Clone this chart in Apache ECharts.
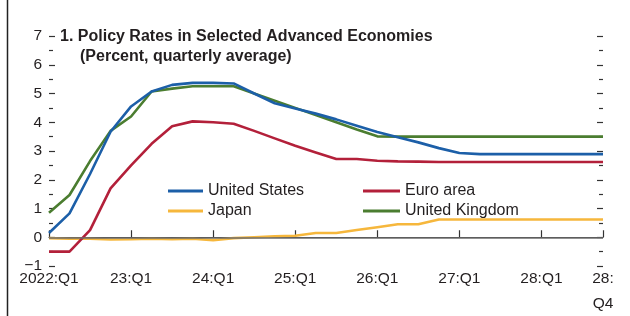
<!DOCTYPE html>
<html><head><meta charset="utf-8">
<script src="https://cdn.jsdelivr.net/npm/echarts@6/dist/echarts.min.js"></script>
<style>html,body{margin:0;padding:0;background:#fff}#c{width:630px;height:316px}</style>
</head><body><div id="c"></div>
<script>
// Quarterly categories 2022:Q1 .. 2028:Q4
const categories = ['2022:Q1','22:Q2','22:Q3','22:Q4','23:Q1','23:Q2','23:Q3','23:Q4',
  '24:Q1','24:Q2','24:Q3','24:Q4','25:Q1','25:Q2','25:Q3','25:Q4',
  '26:Q1','26:Q2','26:Q3','26:Q4','27:Q1','27:Q2','27:Q3','27:Q4',
  '28:Q1','28:Q2','28:Q3','28:Q4'];
const tickIndices = [0, 4, 8, 12, 16, 20, 24, 27];
const tickLabels = ['2022:Q1','23:Q1','24:Q1','25:Q1','26:Q1','27:Q1','28:Q1','28:\nQ4'];

const unitedStates = [0.15, 0.83, 2.2, 3.67, 4.55, 5.07, 5.3, 5.37, 5.37, 5.35, 5.0, 4.66,
  4.48, 4.3, 4.1, 3.88, 3.66, 3.48, 3.3, 3.1, 2.93, 2.89, 2.89, 2.89, 2.89, 2.89, 2.89, 2.89];
const euroArea = [-0.5, -0.5, 0.25, 1.7, 2.5, 3.25, 3.86, 4.03, 4.0, 3.95, 3.7, 3.44,
  3.18, 2.95, 2.72, 2.72, 2.66, 2.64, 2.63, 2.62, 2.62, 2.62, 2.62, 2.62, 2.62, 2.62, 2.62, 2.62];
const japan = [-0.03, -0.05, -0.05, -0.08, -0.07, -0.05, -0.07, -0.05, -0.1, -0.03, 0.0, 0.03,
  0.05, 0.15, 0.15, 0.25, 0.35, 0.45, 0.45, 0.62, 0.62, 0.62, 0.62, 0.62, 0.62, 0.62, 0.62, 0.62];
const unitedKingdom = [0.85, 1.47, 2.65, 3.7, 4.2, 5.07, 5.17, 5.25, 5.25, 5.25, 5.0, 4.75,
  4.5, 4.25, 4.0, 3.75, 3.51, 3.5, 3.5, 3.5, 3.5, 3.5, 3.5, 3.5, 3.5, 3.5, 3.5, 3.5];

const yMin = -1, yMax = 7, yInterval = 1;
const titleText = '1. Policy Rates in Selected Advanced Economies';
const subtitleText = '(Percent, quarterly average)';

const FONT = "'Liberation Sans', Arial, sans-serif";
const INK = '#231f20';
const C_US = '#1c5fa8', C_EA = '#b3203a', C_JP = '#f6b73c', C_UK = '#4b7d30';

const tickSet = new Set(tickIndices);
function showTick(i) { return tickSet.has(i); }

function lineSeries(name, data, color) {
  return { name, type: 'line', data, showSymbol: false, symbol: 'none', color,
    lineStyle: { color, width: 2.6 }, itemStyle: { color }, z: 3, animation: false };
}

const chart = echarts.init(document.getElementById('c'), null, { renderer: 'canvas' });
chart.setOption({
  animation: false,
  backgroundColor: '#fff',
  title: [
    { text: titleText, left: 60, top: 29, padding: 0, textStyle: { fontFamily: FONT, fontSize: 16, fontWeight: 'bold', color: INK } },
    { text: subtitleText, left: 80, top: 49, padding: 0, textStyle: { fontFamily: FONT, fontSize: 16, fontWeight: 'bold', color: INK } }
  ],
  legend: [
    { orient: 'vertical', left: 168, top: 182, padding: 0, itemWidth: 35, itemHeight: 3, itemGap: 2, icon: 'rect',
      data: ['United States', 'Japan'],
      textStyle: { fontFamily: FONT, fontSize: 16, color: INK, lineHeight: 18 } },
    { orient: 'vertical', left: 363, top: 182, padding: 0, itemWidth: 37, itemHeight: 3, itemGap: 2, icon: 'rect',
      data: ['Euro area', 'United Kingdom'],
      textStyle: { fontFamily: FONT, fontSize: 16, color: INK, lineHeight: 18 } }
  ],
  grid: { left: 49, right: 27, top: 36, bottom: 45, containLabel: false },
  xAxis: {
    type: 'category', data: categories, boundaryGap: false,
    axisLine: { show: true, lineStyle: { color: '#333', width: 1.2 } },
    axisTick: { show: true, inside: true, length: 7, interval: (i) => showTick(i), lineStyle: { color: '#333', width: 1.2 } },
    axisLabel: { show: true, interval: (i) => showTick(i), margin: 0, lineHeight: 25,
      fontFamily: FONT, fontSize: 15.5, color: INK, align: 'center',
      formatter: (v, i) => { const k = tickIndices.indexOf(i); return k >= 0 ? tickLabels[k] : ''; } },
    splitLine: { show: false }
  },
  yAxis: [
    { type: 'value', min: yMin, max: yMax, interval: yInterval, position: 'left',
      axisLine: { show: false },
      axisTick: { show: true, inside: true, length: 6, lineStyle: { color: '#333', width: 1.2 } },
      minorTick: { show: true, splitNumber: 2, length: 4, lineStyle: { color: '#333', width: 1.2 } },
      axisLabel: { show: true, margin: 7, fontFamily: FONT, fontSize: 15.5, color: INK,
        formatter: (v) => String(v).replace('-', '\u2212') },
      splitLine: { show: false } },
    { type: 'value', min: yMin, max: yMax, interval: yInterval, position: 'right',
      axisLine: { show: false },
      axisTick: { show: true, inside: true, length: 6, lineStyle: { color: '#333', width: 1.2 } },
      minorTick: { show: true, splitNumber: 2, length: 4, lineStyle: { color: '#333', width: 1.2 } },
      axisLabel: { show: false }, splitLine: { show: false } }
  ],
  graphic: [
    { type: 'line', shape: { x1: 7.5, y1: 0, x2: 7.5, y2: 316 }, style: { stroke: '#222', lineWidth: 1.5 }, silent: true }
  ],
  series: [
    { name: 'zero', type: 'line', data: [], silent: true, z: 1,
      markLine: { silent: true, symbol: 'none', label: { show: false }, animation: false,
        lineStyle: { color: '#6d6d6d', width: 1.6, type: 'solid' }, data: [{ yAxis: 0 }] } },
    lineSeries('Japan', japan, C_JP),
    lineSeries('Euro area', euroArea, C_EA),
    lineSeries('United Kingdom', unitedKingdom, C_UK),
    lineSeries('United States', unitedStates, C_US)
  ]
});
</script>
</body></html>
